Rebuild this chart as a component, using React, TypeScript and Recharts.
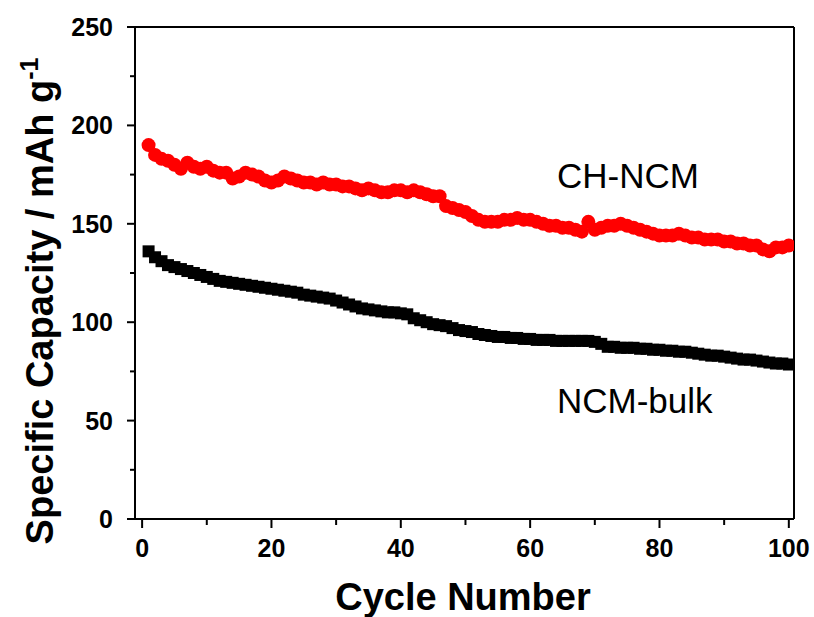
import React from 'react';
import {
  ScatterChart,
  Scatter,
  XAxis,
  YAxis,
  ReferenceLine,
} from 'recharts';

// specific capacity (mAh/g) per cycle
const chNcm = [
  190, 185, 183, 182, 180, 178, 181, 179, 178, 179,
  177, 176, 176, 173, 174, 176, 175, 174, 172, 171,
  172, 174, 173, 172, 171, 171, 170, 171, 170, 170,
  169, 169, 168, 167, 168, 167, 166, 166, 167, 167,
  166, 167, 166, 165, 164, 164, 159, 158, 157, 156,
  154, 152, 151, 151, 151, 152, 152, 153, 152, 152,
  151, 150, 149, 149, 148, 148, 147, 146, 151, 147,
  148, 149, 149, 150, 149, 148, 147, 146, 145, 144,
  144, 144, 145, 144, 143, 143, 142, 142, 142, 141,
  141, 140, 140, 139, 139, 137, 136, 138, 138, 139,
];

const ncmBulk = [
  136, 133, 131, 129, 128, 127, 126, 125, 124, 123,
  122, 121, 120.5, 120, 119.5, 119, 118.5, 118, 117.5, 117,
  116.5, 116, 115.5, 115, 114, 113.5, 113, 112.5, 112, 111,
  110, 109, 108, 107, 106.5, 106, 105.5, 105, 105, 104.5,
  104, 102, 101, 100, 99, 98.5, 98, 97, 96, 95.5,
  95, 94, 93.5, 93, 92.5, 92.5, 92, 92, 91.5, 91.5,
  91, 91, 91, 90.5, 90.5, 90.5, 90.5, 90.5, 90.5, 90,
  89, 87.5, 87.5, 87, 87, 87, 86.5, 86.5, 86, 86,
  85.5, 85.5, 85, 85, 84.5, 84, 83.5, 83, 83, 82.5,
  82, 81.5, 81, 81, 80.5, 80, 79.5, 79, 79, 78.5,
];

const cycles = chNcm.map((_, i) => i + 1);

const xMajor = [0, 20, 40, 60, 80, 100];
const xMinor = [10, 30, 50, 70, 90];
const yMajor = [0, 50, 100, 150, 200, 250];
const yMinor = [25, 75, 125, 175, 225];

const chData = cycles.map((c, i) => ({ x: c, y: chNcm[i] }));
const bulkData = cycles.map((c, i) => ({ x: c, y: ncmBulk[i] }));

const FONT = '"Liberation Sans", Arial, sans-serif';

const XTick = (props: any) => {
  const { x, y, payload } = props;
  const major = xMajor.includes(payload.value);
  return (
    <g>
      <line x1={x} x2={x} y1={y} y2={y + (major ? 9 : 6)} stroke="#000" strokeWidth={2} />
      {major && (
        <text x={x} y={y + 38} textAnchor="middle" fontFamily={FONT} fontWeight="bold" fontSize={25} fill="#000">
          {payload.value}
        </text>
      )}
    </g>
  );
};

const YTick = (props: any) => {
  const { x, y, payload } = props;
  const major = yMajor.includes(payload.value);
  return (
    <g>
      <line x1={x} x2={x - (major ? 8 : 5)} y1={y} y2={y} stroke="#000" strokeWidth={2} />
      {major && (
        <text x={x - 22} y={y + 9} textAnchor="end" fontFamily={FONT} fontWeight="bold" fontSize={25} fill="#000">
          {payload.value}
        </text>
      )}
    </g>
  );
};

const Titles = () => (
  <g>
    <text x={463} y={610} textAnchor="middle" fontFamily={FONT} fontWeight="bold" fontSize={38} fill="#000">
      Cycle Number
    </text>
    <text
      x={53}
      y={301}
      transform="rotate(-90, 53, 301)"
      textAnchor="middle"
      fontFamily={FONT}
      fontWeight="bold"
      fontSize={38}
      fill="#000"
    >
      Specific Capacity / mAh g<tspan dy={-15} fontSize={25}>-1</tspan>
    </text>
    <text x={557} y={188} fontFamily={FONT} fontSize={35} fill="#000">CH-NCM</text>
    <text x={557} y={413} fontFamily={FONT} fontSize={35} fill="#000">NCM-bulk</text>
  </g>
);

const RedDot = (props: any) => (
  <circle cx={props.cx} cy={props.cy} r={7} fill="#ff0000" />
);

const BlackSquare = (props: any) => (
  <rect x={props.cx - 6} y={props.cy - 6} width={12} height={12} fill="#000" />
);

export default function App() {
  return (
    <div style={{ position: 'absolute', top: 0, left: 0, width: 814, height: 617 }}>
      <ScatterChart
        width={814}
        height={617}
        margin={{ top: 27, right: 20, bottom: 0, left: 0 }}
      >
        <XAxis
          type="number"
          dataKey="x"
          domain={[-1.1, 100.8]}
          allowDataOverflow
          ticks={[...xMajor, ...xMinor].sort((a, b) => a - b)}
          interval={0}
          height={98}
          tickSize={0}
          tickMargin={0}
          tickLine={false}
          axisLine={{ stroke: '#000', strokeWidth: 2 }}
          tick={<XTick />}
          label={{ content: () => <Titles /> }}
        />
        <YAxis
          type="number"
          dataKey="y"
          domain={[0, 250]}
          allowDataOverflow
          ticks={[...yMajor, ...yMinor].sort((a, b) => a - b)}
          interval={0}
          width={135}
          tickSize={0}
          tickMargin={0}
          tickLine={false}
          axisLine={{ stroke: '#000', strokeWidth: 2 }}
          tick={<YTick />}
        />
        <ReferenceLine y={250} stroke="#000" strokeWidth={2} />
        <ReferenceLine x={100.8} stroke="#000" strokeWidth={2} />
        <Scatter data={bulkData} shape={<BlackSquare />} isAnimationActive={false} />
        <Scatter data={chData} shape={<RedDot />} isAnimationActive={false} />
      </ScatterChart>
    </div>
  );
}
